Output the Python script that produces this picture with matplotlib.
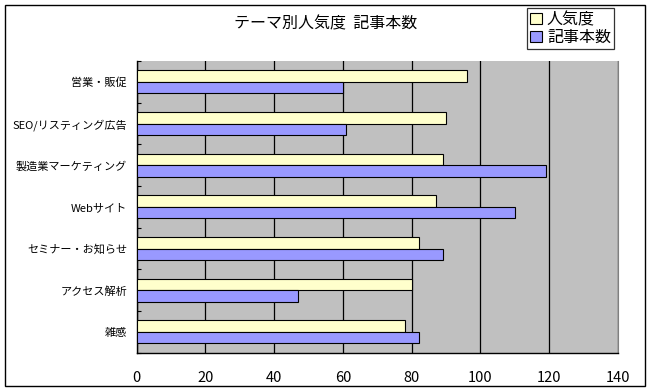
import matplotlib.pyplot as plt
import numpy as np
from matplotlib.patches import Rectangle

plt.rcParams['font.family'] = ['Noto Sans CJK JP', 'DejaVu Sans']

# data, top to bottom as in the chart
categories = ['営業・販促', 'SEO/リスティング広告', '製造業マーケティング', 'Webサイト',
              'セミナー・お知らせ', 'アクセス解析', '雑感']
popularity = [96, 90, 89, 87, 82, 80, 78]
articles = [60, 61, 119, 110, 89, 47, 82]
series_names = ['人気度', '記事本数']
title = 'テーマ別人気度  記事本数'

fig = plt.figure(figsize=(6.51, 3.91), dpi=100)
fig.patch.set_facecolor('white')
ax = fig.add_axes([0.21, 0.098, 0.7393, 0.746])
ax.set_facecolor('#C0C0C0')

y = np.arange(len(categories))
h = 0.275
ax.barh(y - h / 2, popularity, height=h, color='#FFFFCC',
        edgecolor='black', linewidth=0.8, label=series_names[0], zorder=3)
ax.barh(y + h / 2, articles, height=h, color='#9999FF',
        edgecolor='black', linewidth=0.8, label=series_names[1], zorder=3)

ax.set_xlim(0, 140)
ax.set_ylim(len(categories) - 0.5, -0.5)
ax.set_xticks(np.arange(0, 141, 20))
ax.tick_params(axis='x', length=0, pad=13, labelsize=10.5)
ax.set_yticks(y)
ax.set_yticklabels(categories, fontsize=8)
ax.tick_params(axis='y', length=0, pad=7)
ax.set_yticks(np.arange(len(categories) + 1) - 0.5, minor=True)
ax.tick_params(axis='y', which='minor', direction='in', length=3, width=0.8)
ax.xaxis.grid(True, color='black', linewidth=0.9, zorder=1)
ax.set_axisbelow(True)

ax.spines['top'].set_visible(False)
ax.spines['right'].set_color('#808080')
ax.spines['left'].set_linewidth(1)
ax.spines['bottom'].set_linewidth(1)

fig.text(0.5, 0.938, title, ha='center', va='center', fontsize=11.5)

leg = fig.legend(loc='upper left', bbox_to_anchor=(0.8095, 0.9795),
                 fontsize=11.5, handlelength=0.75, handleheight=0.75,
                 handletextpad=0.3, labelspacing=0.05, borderpad=0.2,
                 borderaxespad=0, fancybox=False, frameon=True)
leg.get_frame().set_edgecolor('black')
leg.get_frame().set_linewidth(0.9)

# outer chart frame
fig.patches.append(Rectangle((0.0072, 0.0136), 0.9836, 0.9737, transform=fig.transFigure,
                             fill=False, edgecolor='black', linewidth=1))

fig.savefig('out.png', dpi=100)
